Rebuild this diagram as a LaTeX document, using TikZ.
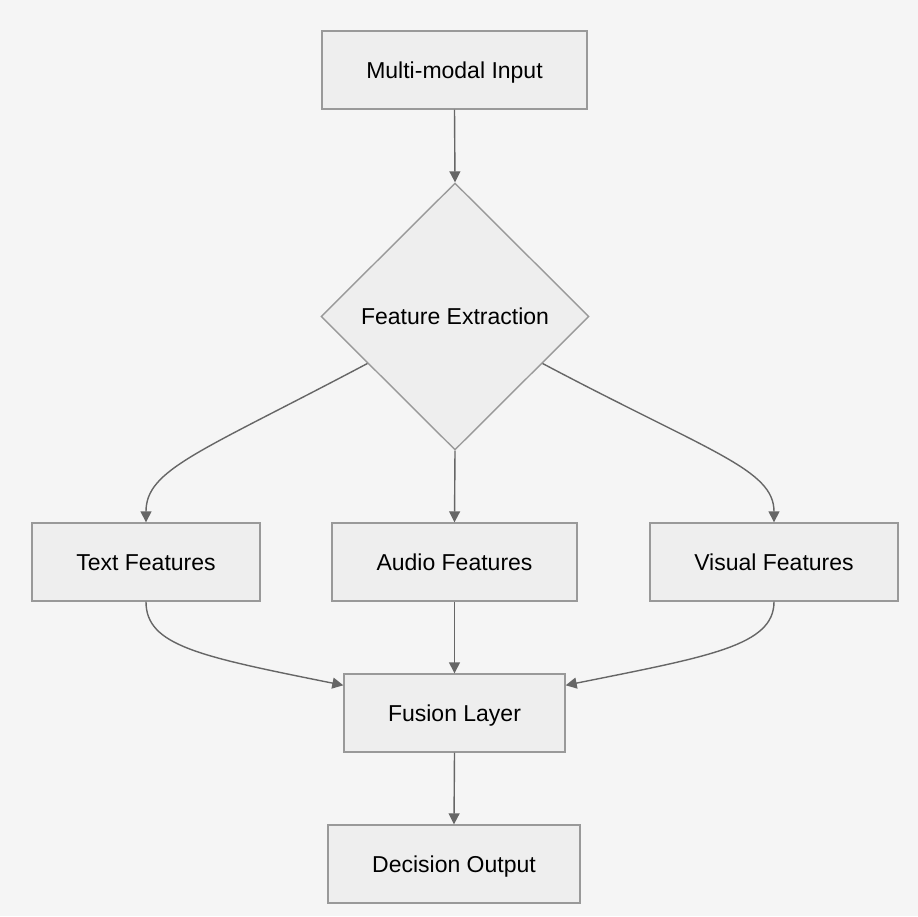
\documentclass[tikz,border=0pt]{standalone}
\usepackage{fontspec}
\setmainfont{Liberation Sans}
\usetikzlibrary{shapes.geometric,arrows.meta,calc}
\definecolor{bgc}{HTML}{F5F5F5}
\definecolor{boxfill}{HTML}{EEEEEE}
\definecolor{boxline}{HTML}{999999}
\definecolor{edgec}{HTML}{666666}
\tikzset{
  box/.style={draw=boxline, fill=boxfill, line width=1.4pt, inner sep=0pt,
    minimum height=78pt, text height=16.5pt, text depth=0pt,
    font=\fontsize{23}{27}\selectfont, text=black},
  dia/.style={draw=boxline, fill=boxfill, line width=1.4pt, shape=diamond, inner sep=0pt,
    minimum width=268pt, minimum height=267pt, text height=16.5pt, text depth=0pt,
    font=\fontsize{23}{27}\selectfont, text=black},
  conn/.style={draw=edgec, line width=1.4pt, -{Triangle[length=11pt,width=11pt]}}
}
\begin{document}
\begin{tikzpicture}[x=1pt,y=-1pt]
\fill[bgc] (0,0) rectangle (918,916);
\useasboundingbox (0,0) rectangle (918,916);
\node[box, minimum width=265pt] (in) at (454.5,70) {Multi-modal Input};
\node[dia] (fe) at (455,316.5) {Feature Extraction};
\node[box, minimum width=228pt] (tf) at (146,562) {Text Features};
\node[box, minimum width=245pt] (af) at (454.5,562) {Audio Features};
\node[box, minimum width=248pt] (vf) at (774,562) {Visual Features};
\node[box, minimum width=221pt] (fl) at (454.5,713) {Fusion Layer};
\node[box, minimum width=252pt] (do) at (454,864) {Decision Output};

\draw[conn] (in.south) -- (fe.north);
\draw[conn] ($(fe.west)!0.35!(fe.south)$) .. controls +(-168,89) and +(0,-53) .. (tf.north);
\draw[conn] (fe.south) -- (af.north);
\draw[conn] ($(fe.east)!0.35!(fe.south)$) .. controls +(168,89) and +(0,-53) .. (vf.north);
\draw[conn] (tf.south) .. controls +(0,44) and +(-144,-29) .. ($(fl.north west)+(0,12)$);
\draw[conn] (af.south) -- (fl.north);
\draw[conn] (vf.south) .. controls +(0,44) and +(144,-29) .. ($(fl.north east)+(0,12)$);
\draw[conn] (fl.south) -- (do.north);
\end{tikzpicture}
\end{document}
